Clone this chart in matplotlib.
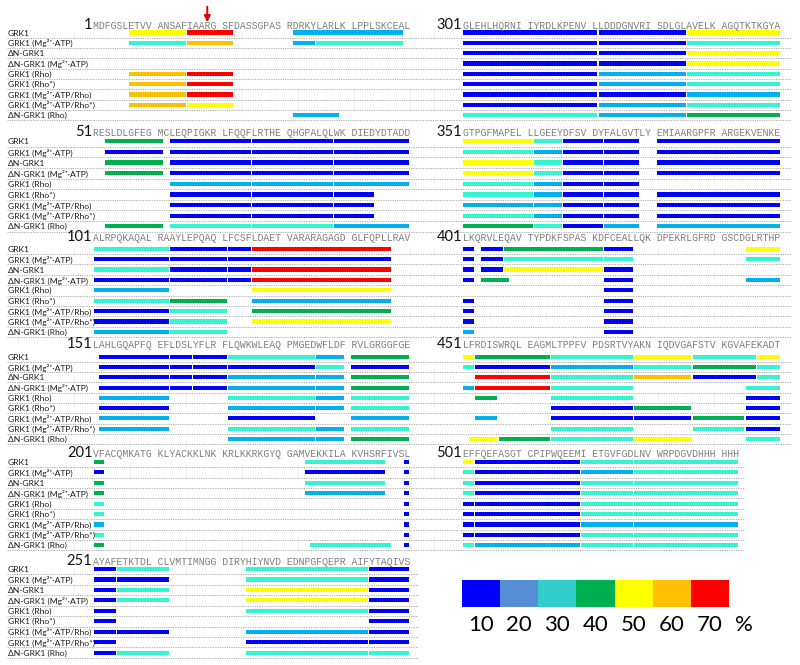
import matplotlib.pyplot as plt

# ----------------------------
# DATA
# ----------------------------
row_labels = ["GRK1", "GRK1 (Mg²⁺·ATP)", "ΔN-GRK1", "ΔN-GRK1 (Mg²⁺·ATP)",
              "GRK1 (Rho)", "GRK1 (Rho*)", "GRK1 (Mg²⁺·ATP/Rho)",
              "GRK1 (Mg²⁺·ATP/Rho*)", "ΔN-GRK1 (Rho)"]

# uptake level of each bar -> colour
level_colors = {"B": "#0000ff", "LB": "#00b0f0", "C": "#33f5d2", "G": "#00b050",
                "Y": "#ffff00", "O": "#ffc000", "R": "#ff0000"}

legend_values = [10, 20, 30, 40, 50, 60, 70]
legend_colors = ["#0000ff", "#558ed5", "#33cccc", "#00b050", "#ffff00", "#ffc000", "#ff0000"]

arrow_residue = 19

seq_1 = "MDFGSLETVV ANSAFIAARG SFDASSGPAS RDRKYLARLK LPPLSKCEAL"
seq_51 = "RESLDLGFEG MCLEQPIGKR LFQQFLRTHE QHGPALQLWK DIEDYDTADD"
seq_101 = "ALRPQKAQAL RAAYLEPQAQ LFCSFLDAET VARARAGAGD GLFQPLLRAV"
seq_151 = "LAHLGQAPFQ EFLDSLYFLR FLQWKWLEAQ PMGEDWFLDF RVLGRGGFGE"
seq_201 = "VFACQMKATG KLYACKKLNK KRLKKRKGYQ GAMVEKKILA KVHSRFIVSL"
seq_251 = "AYAFETKTDL CLVMTIMNGG DIRYHIYNVD EDNPGFQEPR AIFYTAQIVS"
seq_301 = "GLEHLHQRNI IYRDLKPENV LLDDDGNVRI SDLGLAVELK AGQTKTKGYA"
seq_351 = "GTPGFMAPEL LLGEEYDFSV DYFALGVTLY EMIAARGPFR ARGEKVENKE"
seq_401 = "LKQRVLEQAV TYPDKFSPAS KDFCEALLQK DPEKRLGFRD GSCDGLRTHP"
seq_451 = "LFRDISWRQL EAGMLTPPFV PDSRTVYAKN IQDVGAFSTV KGVAFEKADT"
seq_501 = "EFFQEFASGT CPIPWQEEMI ETGVFGDLNV WRPDGVDHHH HHH"

# (first residue, last residue, level) per row
bars_1 = [
    [(7, 15, "Y"), (16, 22, "R"), (32, 49, "LB")],
    [(7, 15, "C"), (16, 22, "O"), (32, 35, "LB"), (36, 49, "C")],
    [],
    [],
    [(7, 15, "O"), (16, 22, "R")],
    [(7, 15, "O"), (16, 22, "R")],
    [(7, 15, "O"), (16, 22, "R")],
    [(7, 15, "O"), (16, 22, "Y")],
    [(32, 39, "LB")],
]
bars_51 = [
    [(53, 61, "G"), (63, 75, "B"), (76, 88, "B"), (89, 100, "B")],
    [(53, 61, "B"), (63, 75, "B"), (76, 88, "B"), (89, 100, "B")],
    [(53, 61, "G"), (63, 75, "B"), (76, 88, "B"), (89, 100, "B")],
    [(53, 61, "G"), (63, 75, "B"), (76, 88, "B"), (89, 100, "B")],
    [(63, 75, "LB"), (76, 88, "LB"), (89, 100, "LB")],
    [(63, 75, "B"), (76, 88, "B"), (89, 94, "B")],
    [(63, 75, "B"), (76, 88, "B"), (89, 94, "B")],
    [(63, 75, "B"), (76, 88, "B"), (89, 94, "B")],
    [(53, 61, "G"), (63, 75, "C"), (76, 88, "C"), (89, 100, "LB")],
]
bars_101 = [
    [(101, 112, "C"), (113, 121, "B"), (122, 125, "B"), (126, 147, "R")],
    [(101, 112, "B"), (113, 121, "B"), (122, 147, "B")],
    [(101, 112, "C"), (113, 121, "B"), (122, 125, "B"), (126, 147, "R")],
    [(101, 112, "B"), (113, 121, "B"), (122, 125, "B"), (126, 147, "R")],
    [(101, 112, "LB"), (126, 147, "Y")],
    [(101, 112, "C"), (113, 121, "G"), (126, 147, "LB")],
    [(101, 112, "B"), (113, 121, "C"), (126, 147, "G")],
    [(101, 112, "B"), (113, 121, "C"), (126, 147, "Y")],
    [(101, 112, "LB"), (113, 121, "C")],
]
bars_151 = [
    [(152, 162, "B"), (163, 166, "B"), (167, 171, "B"), (172, 185, "C"), (186, 190, "LB"), (191, 200, "G")],
    [(152, 162, "B"), (163, 166, "B"), (167, 171, "B"), (172, 185, "B"), (186, 190, "C"), (191, 200, "B")],
    [(152, 162, "B"), (163, 166, "B"), (167, 171, "B"), (172, 185, "LB"), (186, 190, "LB"), (191, 200, "G")],
    [(152, 162, "B"), (163, 166, "B"), (167, 171, "B"), (172, 185, "LB"), (186, 190, "LB"), (191, 200, "G")],
    [(152, 162, "LB"), (172, 185, "C"), (186, 190, "LB"), (191, 200, "C")],
    [(152, 162, "B"), (172, 185, "LB"), (186, 190, "LB"), (191, 200, "C")],
    [(152, 162, "LB"), (172, 185, "B"), (191, 200, "LB")],
    [(152, 162, "LB"), (172, 185, "C"), (186, 190, "LB"), (191, 200, "C")],
    [(172, 185, "LB"), (186, 190, "LB"), (191, 200, "G")],
]
bars_201 = [
    [(201, 202, "G"), (234, 246, "C"), (250, 250, "B")],
    [(201, 202, "B"), (234, 246, "B"), (250, 250, "B")],
    [(201, 202, "G"), (234, 246, "C"), (250, 250, "B")],
    [(201, 202, "G"), (234, 246, "LB"), (250, 250, "B")],
    [(201, 202, "C"), (250, 250, "B")],
    [(201, 202, "C"), (250, 250, "B")],
    [(201, 202, "LB"), (250, 250, "B")],
    [(201, 202, "C"), (250, 250, "B")],
    [(201, 202, "G"), (235, 247, "C"), (250, 250, "B")],
]
bars_251 = [
    [(251, 254, "B"), (255, 262, "C"), (275, 293, "C"), (294, 300, "B")],
    [(251, 254, "B"), (255, 262, "B"), (275, 293, "C"), (294, 300, "B")],
    [(251, 254, "B"), (255, 262, "C"), (275, 293, "Y"), (294, 300, "B")],
    [(251, 254, "B"), (255, 262, "C"), (275, 293, "Y"), (294, 300, "B")],
    [(251, 254, "B"), (275, 293, "C"), (294, 300, "B")],
    [(251, 254, "B"), (294, 300, "B")],
    [(251, 254, "B"), (255, 262, "B"), (275, 293, "LB"), (294, 300, "B")],
    [(251, 254, "B"), (275, 293, "B"), (294, 300, "B")],
    [(251, 254, "B"), (255, 262, "C"), (275, 293, "C"), (294, 300, "C")],
]
bars_301 = [
    [(301, 321, "B"), (322, 335, "B"), (336, 350, "Y")],
    [(301, 321, "B"), (322, 335, "B"), (336, 350, "C")],
    [(301, 321, "B"), (322, 335, "B"), (336, 350, "Y")],
    [(301, 321, "B"), (322, 335, "B"), (336, 350, "Y")],
    [(301, 321, "B"), (322, 335, "LB"), (336, 350, "C")],
    [(301, 321, "B"), (322, 335, "LB"), (336, 350, "C")],
    [(301, 321, "B"), (322, 335, "B"), (336, 350, "LB")],
    [(301, 321, "B"), (322, 335, "LB"), (336, 350, "C")],
    [(301, 321, "C"), (322, 335, "LB"), (336, 350, "G")],
]
bars_351 = [
    [(351, 361, "Y"), (362, 366, "C"), (367, 372, "B"), (373, 378, "B"), (381, 400, "B")],
    [(351, 361, "C"), (362, 366, "LB"), (367, 372, "B"), (373, 378, "B"), (381, 400, "B")],
    [(351, 361, "Y"), (362, 366, "C"), (367, 372, "B"), (373, 378, "B"), (381, 400, "B")],
    [(351, 361, "Y"), (362, 366, "C"), (367, 372, "B"), (373, 378, "B"), (381, 400, "B")],
    [(351, 361, "C"), (362, 366, "LB"), (367, 372, "B"), (373, 378, "B")],
    [(351, 361, "C"), (362, 366, "LB"), (367, 372, "B"), (373, 378, "B"), (381, 400, "B")],
    [(351, 361, "LB"), (362, 366, "LB"), (367, 372, "B"), (373, 378, "B"), (381, 400, "B")],
    [(351, 361, "C"), (362, 366, "LB"), (367, 372, "B"), (373, 378, "B"), (381, 400, "B")],
    [(351, 361, "G"), (362, 366, "C"), (367, 372, "B"), (373, 378, "LB"), (381, 400, "LB")],
]
bars_401 = [
    [(401, 402, "B"), (404, 407, "B"), (408, 422, "G"), (423, 427, "B"), (445, 450, "Y")],
    [(401, 402, "B"), (404, 407, "B"), (408, 422, "C"), (423, 427, "C"), (445, 450, "C")],
    [(401, 402, "B"), (404, 407, "B"), (408, 422, "Y"), (423, 427, "B")],
    [(401, 402, "B"), (404, 408, "G"), (423, 427, "B"), (445, 450, "LB")],
    [(423, 427, "B")],
    [(401, 402, "B"), (423, 427, "B")],
    [(401, 402, "B"), (423, 427, "B")],
    [(401, 402, "B"), (423, 427, "B")],
    [(401, 402, "LB"), (423, 427, "B")],
]
bars_451 = [
    [(451, 452, "Y"), (453, 464, "G"), (465, 477, "C"), (478, 486, "Y"), (487, 496, "C"), (497, 500, "Y")],
    [(451, 452, "C"), (453, 464, "B"), (465, 477, "LB"), (478, 486, "C"), (487, 496, "G"), (497, 500, "C")],
    [(453, 464, "R"), (465, 477, "C"), (478, 486, "O"), (487, 496, "B"), (497, 500, "C")],
    [(451, 452, "LB"), (453, 464, "R"), (465, 477, "C"), (495, 500, "C")],
    [(453, 456, "G"), (465, 477, "C"), (495, 500, "B")],
    [(465, 477, "B"), (478, 486, "G"), (495, 500, "B")],
    [(453, 456, "LB"), (465, 477, "B"), (478, 486, "B"), (487, 494, "G"), (495, 500, "B")],
    [(465, 477, "C"), (487, 494, "C"), (495, 500, "B")],
    [(452, 456, "Y"), (457, 464, "G"), (465, 477, "C"), (478, 486, "Y"), (495, 500, "C")],
]
bars_501 = [
    [(501, 502, "Y"), (503, 519, "B"), (520, 527, "C"), (528, 543, "C")],
    [(501, 502, "C"), (503, 519, "B"), (520, 527, "LB"), (528, 543, "C")],
    [(501, 502, "C"), (503, 519, "B"), (520, 527, "C"), (528, 543, "C")],
    [(501, 502, "C"), (503, 519, "B"), (520, 527, "C"), (528, 543, "C")],
    [(501, 502, "B"), (503, 519, "B"), (520, 527, "C"), (528, 543, "C")],
    [(501, 502, "B"), (503, 519, "B"), (520, 527, "C"), (528, 543, "C")],
    [(501, 502, "B"), (503, 519, "B"), (520, 527, "LB"), (528, 543, "LB")],
    [(501, 502, "B"), (503, 519, "B"), (520, 527, "C"), (528, 543, "C")],
    [(501, 502, "C"), (503, 519, "LB"), (520, 527, "C"), (528, 543, "C")],
]

# ----------------------------
# LAYOUT (pixels)
# ----------------------------
W, H = 800, 665
row_y0 = [32.5, 141.3, 248.7, 356.7, 462.0, 569.0]    # first bar row of each band
row_step = [10.34, 10.63, 10.41, 10.29, 10.41, 10.46]
seq_base = [29.3, 136.3, 241.3, 348.3, 456.7, 564.7]  # baseline of sequence text
col_x0 = [93.0, 462.7]      # left edge of first residue
col_cw = [5.86, 5.88]       # width of one character
col_span = [(0, 430), (430, 800)]

# (start residue, sequence, bars, column, band, dotted line px extent)
blocks = [
    (1, seq_1, bars_1, 0, 0, (7, 430)),
    (51, seq_51, bars_51, 0, 1, (7, 430)),
    (101, seq_101, bars_101, 0, 2, (7, 430)),
    (151, seq_151, bars_151, 0, 3, (7, 430)),
    (201, seq_201, bars_201, 0, 4, (7, 430)),
    (251, seq_251, bars_251, 0, 5, (7, 418)),
    (301, seq_301, bars_301, 1, 0, (430, 791)),
    (351, seq_351, bars_351, 1, 1, (430, 791)),
    (401, seq_401, bars_401, 1, 2, (430, 791)),
    (451, seq_451, bars_451, 1, 3, (430, 791)),
    (501, seq_501, bars_501, 1, 4, (430, 745)),
]

LABEL_FONT = ["Lato", "DejaVu Sans"]
MONO_FONT = "Liberation Mono"


def char_pos(res, start):
    k = res - start
    return k + k // 10


fig = plt.figure(figsize=(W / 100, H / 100), dpi=100)

for start, seq, bars, col, band, line_px in blocks:
    x0, cw = col_x0[col], col_cw[col]
    y0, step = row_y0[band], row_step[band]
    xa, xb = col_span[col]
    top_r, bot_r = -3.4, 8.6
    ya, yb = y0 + top_r * step, y0 + bot_r * step
    ax = fig.add_axes([xa / W, 1 - yb / H, (xb - xa) / W, (yb - ya) / H])
    ax.set_xlim((xa - x0) / cw, (xb - x0) / cw)
    ax.set_ylim(bot_r, top_r)
    ax.axis("off")

    # dotted separators under each row
    la, lb = (line_px[0] - x0) / cw, (line_px[1] - x0) / cw
    for r in range(9):
        ax.plot([la, lb], [r + 0.5, r + 0.5], color="#ababab", lw=0.7,
                linestyle=(0, (1.2, 1.2)), clip_on=False)

    # sequence and block number
    base_r = (seq_base[band] - y0) / step
    ax.text(0, base_r, seq, fontfamily=MONO_FONT, fontsize=7.04, color="#7f7f7f",
            ha="left", va="baseline")
    ax.text(-0.1, base_r, str(start), family=LABEL_FONT, fontsize=10.5, color="#111111",
            ha="right", va="baseline")

    # coverage bars
    gap = 0.1
    for r, row in enumerate(bars):
        for a, b, lev in row:
            left = char_pos(a, start) + gap
            width = char_pos(b, start) + 1 - char_pos(a, start) - 2 * gap
            ax.barh(r, width, left=left, height=0.4, color=level_colors[lev], lw=0)

    if col == 0:
        lab_c = (8 - x0) / cw
        for r, lab in enumerate(row_labels):
            ax.text(lab_c, r + 0.05, lab, family=LABEL_FONT, fontsize=6.1, color="#1a1a1a",
                    ha="left", va="center")

    if start == 1:
        ac = char_pos(arrow_residue, start) + 0.5
        ax.annotate("", xy=(ac, -1.0), xytext=(ac, -2.5), annotation_clip=False,
                    arrowprops=dict(arrowstyle="-|>", color="#e00000", lw=1.4,
                                    mutation_scale=9, shrinkA=0, shrinkB=0))

# ----------------------------
# COLOUR SCALE
# ----------------------------
lx0, ly0, lx1, ly1 = 461.7, 580.0, 729.3, 606.7
lax = fig.add_axes([lx0 / W, 1 - ly1 / H, (lx1 - lx0) / W, (ly1 - ly0) / H])
lax.bar(range(len(legend_values)), 1, width=1, color=legend_colors, lw=0)
lax.set_xlim(-0.5, len(legend_values) - 0.5)
lax.set_ylim(0, 1)
lax.axis("off")
for i, v in enumerate(legend_values):
    lax.text(i, -0.7, str(v), family=LABEL_FONT, fontsize=16, color="black",
             ha="center", va="center", clip_on=False)
lax.text(6.87, -0.7, "%", family=LABEL_FONT, fontsize=16, color="black",
         ha="center", va="center", clip_on=False)

fig.savefig("out.png", dpi=100)
